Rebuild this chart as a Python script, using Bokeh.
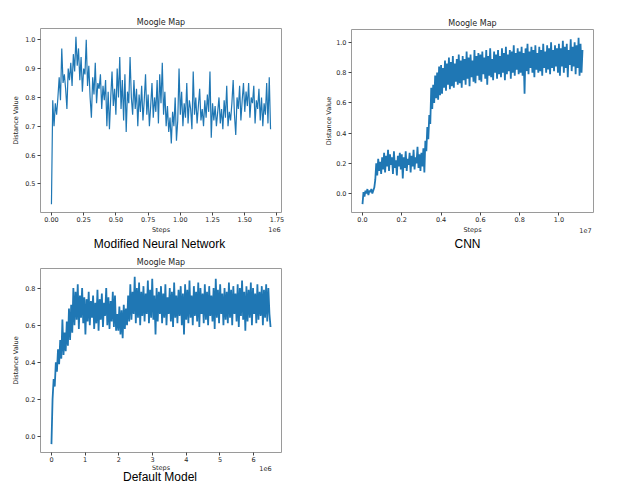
import numpy as np
from bokeh.plotting import figure
from bokeh.layouts import column, row
from bokeh.models import Range1d, FixedTicker, Label
from bokeh.embed import file_html
from bokeh.resources import INLINE

TITLE = "Moogle Map"
XLABEL = "Steps"
YLABEL = "Distance Value"

# ---- Modified Neural Network ----
mnn_step = 10000
mnn_values = [
    0.43, 0.79, 0.70, 0.78, 0.74, 0.80, 0.87, 0.79, 0.97, 0.85,
    0.88, 0.83, 0.76, 0.90, 0.86, 0.92, 0.84, 0.95, 0.89, 1.01,
    0.91, 0.97, 0.86, 0.94, 0.82, 0.90, 0.88, 1.00, 0.84, 0.91,
    0.80, 0.73, 0.87, 0.81, 0.92, 0.78, 0.85, 0.83, 0.88, 0.76,
    0.84, 0.79, 0.86, 0.70, 0.82, 0.69, 0.80, 0.89, 0.77, 0.83,
    0.74, 0.90, 0.80, 0.94, 0.76, 0.86, 0.72, 0.88, 0.68, 0.82,
    0.78, 0.94, 0.80, 0.74, 0.86, 0.76, 0.83, 0.70, 0.81, 0.75,
    0.84, 0.72, 0.79, 0.88, 0.74, 0.81, 0.70, 0.77, 0.85, 0.73,
    0.80, 0.75, 0.86, 0.71, 0.88, 0.78, 0.92, 0.74, 0.82, 0.70,
    0.77, 0.68, 0.73, 0.64, 0.75, 0.70, 0.80, 0.65, 0.72, 0.90,
    0.74, 0.82, 0.70, 0.78, 0.73, 0.85, 0.71, 0.79, 0.76, 0.69,
    0.89, 0.74, 0.80, 0.71, 0.77, 0.83, 0.72, 0.76, 0.70, 0.79,
    0.73, 0.81, 0.75, 0.89, 0.66, 0.78, 0.72, 0.77, 0.70, 0.75,
    0.80, 0.71, 0.76, 0.69, 0.79, 0.73, 0.84, 0.70, 0.75, 0.72,
    0.78, 0.86, 0.74, 0.67, 0.80, 0.76, 0.84, 0.72, 0.79, 0.85,
    0.75, 0.82, 0.77, 0.85, 0.73, 0.80, 0.78, 0.84, 0.71, 0.79,
    0.76, 0.83, 0.72, 0.80, 0.70, 0.78, 0.74, 0.85, 0.71, 0.87,
    0.69,
]
mnn_xticks = [0, 250000, 500000, 750000, 1000000, 1250000, 1500000, 1750000]
mnn_xtick_labels = ["0.00", "0.25", "0.50", "0.75", "1.00", "1.25", "1.50", "1.75"]
mnn_yticks = [0.5, 0.6, 0.7, 0.8, 0.9, 1.0]
mnn_ytick_labels = ["0.5", "0.6", "0.7", "0.8", "0.9", "1.0"]
mnn_offset = "1e6"
mnn_caption = "Modified Neural Network"

# ---- CNN ----
cnn_step = 50000
cnn_values = [
    -0.07, 0.01, -0.02, 0.02, 0.00, 0.03, -0.01, 0.02, 0.01, 0.03, 0.00, 0.02, 0.04, 0.09, 0.20, 0.12, 0.23, 0.15, 0.21, 0.13,
    0.24, 0.16, 0.27, 0.14, 0.25, 0.18, 0.29, 0.15, 0.26, 0.19, 0.24, 0.13, 0.28, 0.17, 0.22, 0.12, 0.25, 0.18, 0.27, 0.16,
    0.26, 0.10, 0.24, 0.17, 0.28, 0.15, 0.23, 0.19, 0.27, 0.14, 0.25, 0.18, 0.29, 0.16, 0.24, 0.20, 0.31, 0.17, 0.26, 0.15,
    0.27, 0.18, 0.30, 0.14, 0.35, 0.28, 0.44, 0.36, 0.52, 0.46, 0.70, 0.56, 0.72, 0.60, 0.78, 0.63, 0.80, 0.62, 0.84, 0.65,
    0.85, 0.66, 0.83, 0.70, 0.88, 0.68, 0.86, 0.72, 0.90, 0.69, 0.87, 0.71, 0.91, 0.70, 0.86, 0.74, 0.89, 0.72, 0.92, 0.73,
    0.88, 0.70, 0.91, 0.75, 0.89, 0.72, 0.94, 0.76, 0.90, 0.71, 0.92, 0.77, 0.88, 0.74, 0.95, 0.73, 0.91, 0.78, 0.93, 0.75,
    0.92, 0.74, 0.94, 0.79, 0.90, 0.76, 0.95, 0.72, 0.91, 0.78, 0.96, 0.77, 0.89, 0.75, 0.94, 0.80, 0.92, 0.76, 0.95, 0.79,
    0.91, 0.77, 0.96, 0.80, 0.93, 0.75, 0.97, 0.79, 0.92, 0.81, 0.95, 0.76, 0.94, 0.80, 0.98, 0.78, 0.93, 0.82, 0.96, 0.79,
    0.94, 0.80, 0.97, 0.78, 0.93, 0.66, 0.96, 0.81, 0.99, 0.79, 0.94, 0.83, 0.97, 0.80, 0.95, 0.77, 0.98, 0.82, 0.93, 0.80,
    0.97, 0.81, 0.95, 0.78, 0.99, 0.83, 0.94, 0.80, 0.98, 0.82, 0.96, 0.79, 1.00, 0.83, 0.95, 0.81, 0.98, 0.84, 0.96, 0.80,
    0.99, 0.78, 0.96, 0.84, 1.01, 0.80, 0.97, 0.83, 0.99, 0.77, 0.95, 0.85, 1.02, 0.81, 0.97, 0.84, 1.00, 0.79, 0.98, 0.83,
    1.03, 0.78, 0.99, 0.80, 0.95,
]
cnn_xticks = [0, 2000000, 4000000, 6000000, 8000000, 10000000]
cnn_xtick_labels = ["0.0", "0.2", "0.4", "0.6", "0.8", "1.0"]
cnn_yticks = [0.0, 0.2, 0.4, 0.6, 0.8, 1.0]
cnn_ytick_labels = ["0.0", "0.2", "0.4", "0.6", "0.8", "1.0"]
cnn_offset = "1e7"
cnn_caption = "CNN"

# ---- Default Model ----
dm_step = 32500
dm_values = [
    -0.04, 0.20, 0.31, 0.27, 0.40, 0.35, 0.47, 0.39, 0.52, 0.42, 0.63, 0.44, 0.56, 0.46, 0.62, 0.49, 0.69, 0.52, 0.71, 0.56,
    0.80, 0.60, 0.78, 0.63, 0.82, 0.58, 0.76, 0.64, 0.80, 0.61, 0.75, 0.55, 0.74, 0.62, 0.78, 0.60, 0.73, 0.64, 0.76, 0.58,
    0.72, 0.61, 0.79, 0.57, 0.74, 0.63, 0.77, 0.59, 0.72, 0.65, 0.80, 0.60, 0.75, 0.58, 0.73, 0.62, 0.78, 0.59, 0.76, 0.57,
    0.66, 0.57, 0.70, 0.55, 0.68, 0.53, 0.71, 0.58, 0.69, 0.60, 0.76, 0.62, 0.82, 0.63, 0.78, 0.66, 0.86, 0.61, 0.80, 0.64,
    0.83, 0.60, 0.78, 0.65, 0.81, 0.62, 0.77, 0.66, 0.84, 0.61, 0.79, 0.64, 0.85, 0.63, 0.76, 0.55, 0.80, 0.62, 0.78, 0.66,
    0.81, 0.61, 0.77, 0.64, 0.82, 0.60, 0.75, 0.66, 0.80, 0.62, 0.78, 0.59, 0.83, 0.64, 0.76, 0.61, 0.79, 0.65, 0.81, 0.60,
    0.77, 0.55, 0.82, 0.63, 0.79, 0.61, 0.84, 0.64, 0.76, 0.60, 0.81, 0.65, 0.78, 0.62, 0.83, 0.59, 0.80, 0.66, 0.77, 0.61,
    0.82, 0.63, 0.78, 0.60, 0.81, 0.65, 0.76, 0.62, 0.80, 0.58, 0.85, 0.64, 0.79, 0.61, 0.82, 0.66, 0.77, 0.60, 0.80, 0.63,
    0.78, 0.61, 0.83, 0.64, 0.79, 0.60, 0.81, 0.66, 0.77, 0.62, 0.82, 0.59, 0.80, 0.65, 0.84, 0.63, 0.78, 0.57, 0.81, 0.62,
    0.79, 0.64, 0.83, 0.60, 0.80, 0.66, 0.77, 0.61, 0.82, 0.63, 0.78, 0.65, 0.81, 0.60, 0.79, 0.64, 0.82, 0.62, 0.80, 0.66,
    0.59,
]
dm_xticks = [0, 1000000, 2000000, 3000000, 4000000, 5000000, 6000000]
dm_xtick_labels = ["0", "1", "2", "3", "4", "5", "6"]
dm_yticks = [0.0, 0.2, 0.4, 0.6, 0.8]
dm_ytick_labels = ["0.0", "0.2", "0.4", "0.6", "0.8"]
dm_offset = "1e6"
dm_caption = "Default Model"

LINE_COLOR = "#1f77b4"
TEXT_COLOR = "#262626"
FRAME_COLOR = "#9a9a9a"
MPL_FONT = "DejaVu Sans"
CAP_FONT = "Liberation Sans"


def make_fig(values, step, xticks, xlabels, yticks, ylabels,
             width, height, left, right, top, bottom, ylabel_standoff, lw):
    ys = np.array(values, dtype=float)
    xs = np.arange(len(ys)) * step
    xpad = 0.05 * (xs.max() - xs.min())
    ypad = 0.05 * (ys.max() - ys.min())
    p = figure(width=width, height=height,
               x_range=Range1d(xs.min() - xpad, xs.max() + xpad),
               y_range=Range1d(ys.min() - ypad, ys.max() + ypad),
               output_backend="svg", toolbar_location=None,
               min_border_left=left, min_border_right=right,
               min_border_top=top, min_border_bottom=bottom,
               background_fill_color="white", border_fill_color="white")
    p.title.text = TITLE
    p.title.align = "center"
    p.title.text_font = MPL_FONT
    p.title.text_font_size = "8px"
    p.title.text_font_style = "normal"
    p.title.text_color = TEXT_COLOR
    p.title.standoff = 4
    p.grid.visible = False
    p.outline_line_color = FRAME_COLOR
    p.outline_line_width = 1

    p.line(xs, ys, line_color=LINE_COLOR, line_width=lw)

    xa = p.xaxis[0]
    ya = p.yaxis[0]
    xa.ticker = FixedTicker(ticks=xticks)
    xa.major_label_overrides = {t: l for t, l in zip(xticks, xlabels)}
    ya.ticker = FixedTicker(ticks=yticks)
    ya.major_label_overrides = {t: l for t, l in zip(yticks, ylabels)}
    ya.axis_label = YLABEL
    for ax in (xa, ya):
        ax.axis_line_color = None
        ax.major_tick_line_color = "#444444"
        ax.major_tick_out = 3
        ax.major_tick_in = 0
        ax.minor_tick_line_color = None
        ax.major_label_text_font = MPL_FONT
        ax.major_label_text_font_size = "6.5px"
        ax.major_label_text_color = TEXT_COLOR
        ax.axis_label_text_font = MPL_FONT
        ax.axis_label_text_font_size = "6.5px"
        ax.axis_label_text_font_style = "normal"
        ax.axis_label_text_color = TEXT_COLOR
    xa.major_label_standoff = 1
    ya.major_label_standoff = 2
    ya.axis_label_standoff = ylabel_standoff
    return p


def make_strip(width, height, steps_x, steps_y, offset, offset_x, offset_y,
               caption, caption_x, caption_y):
    # the strip's frame is aligned with the frame of the plot above it,
    # so x positions are measured from that frame's left edge
    s = figure(width=width, height=height,
               x_range=Range1d(0, 1), y_range=Range1d(0, 1),
               x_axis_type=None, y_axis_type=None,
               output_backend="svg", toolbar_location=None,
               min_border=0, outline_line_color=None,
               background_fill_color="white", border_fill_color="white")
    s.grid.visible = False
    s.add_layout(Label(x=steps_x, y=steps_y, x_units="screen", y_units="screen",
                       text=XLABEL, text_align="center", text_baseline="middle",
                       text_font=MPL_FONT, text_font_size="6.5px",
                       text_color=TEXT_COLOR))
    s.add_layout(Label(x=offset_x, y=offset_y, x_units="screen", y_units="screen",
                       text=offset, text_align="center", text_baseline="middle",
                       text_font=MPL_FONT, text_font_size="6.5px",
                       text_color=TEXT_COLOR))
    s.add_layout(Label(x=caption_x, y=caption_y, x_units="screen", y_units="screen",
                       text=caption, text_align="center", text_baseline="middle",
                       text_font=CAP_FONT, text_font_size="12px",
                       text_color="black"))
    return s


p1 = make_fig(mnn_values, mnn_step, mnn_xticks, mnn_xtick_labels, mnn_yticks, mnn_ytick_labels,
              300, 225, 40, 19, 28, 13, 2, 1.2)
s1 = make_strip(300, 25, 120.5, 21, mnn_offset, 234, 21, mnn_caption, 119, 6.5)

p2 = make_fig(cnn_values, cnn_step, cnn_xticks, cnn_xtick_labels, cnn_yticks, cnn_ytick_labels,
              324, 225, 51, 31, 29, 13, 0, 1.8)
s2 = make_strip(324, 25, 121, 21, cnn_offset, 234, 20, cnn_caption, 116, 6.5)

p3 = make_fig(dm_values, dm_step, dm_xticks, dm_xtick_labels, dm_yticks, dm_ytick_labels,
              300, 215, 40, 19, 18, 13, 2, 1.8)
s3 = make_strip(300, 18, 120.5, 15.5, dm_offset, 225, 15.5, dm_caption, 119.5, 6.5)

layout = column(row(column(p1, s1), column(p2, s2)), column(p3, s3))
open("out.html", "w").write(file_html(layout, INLINE))
